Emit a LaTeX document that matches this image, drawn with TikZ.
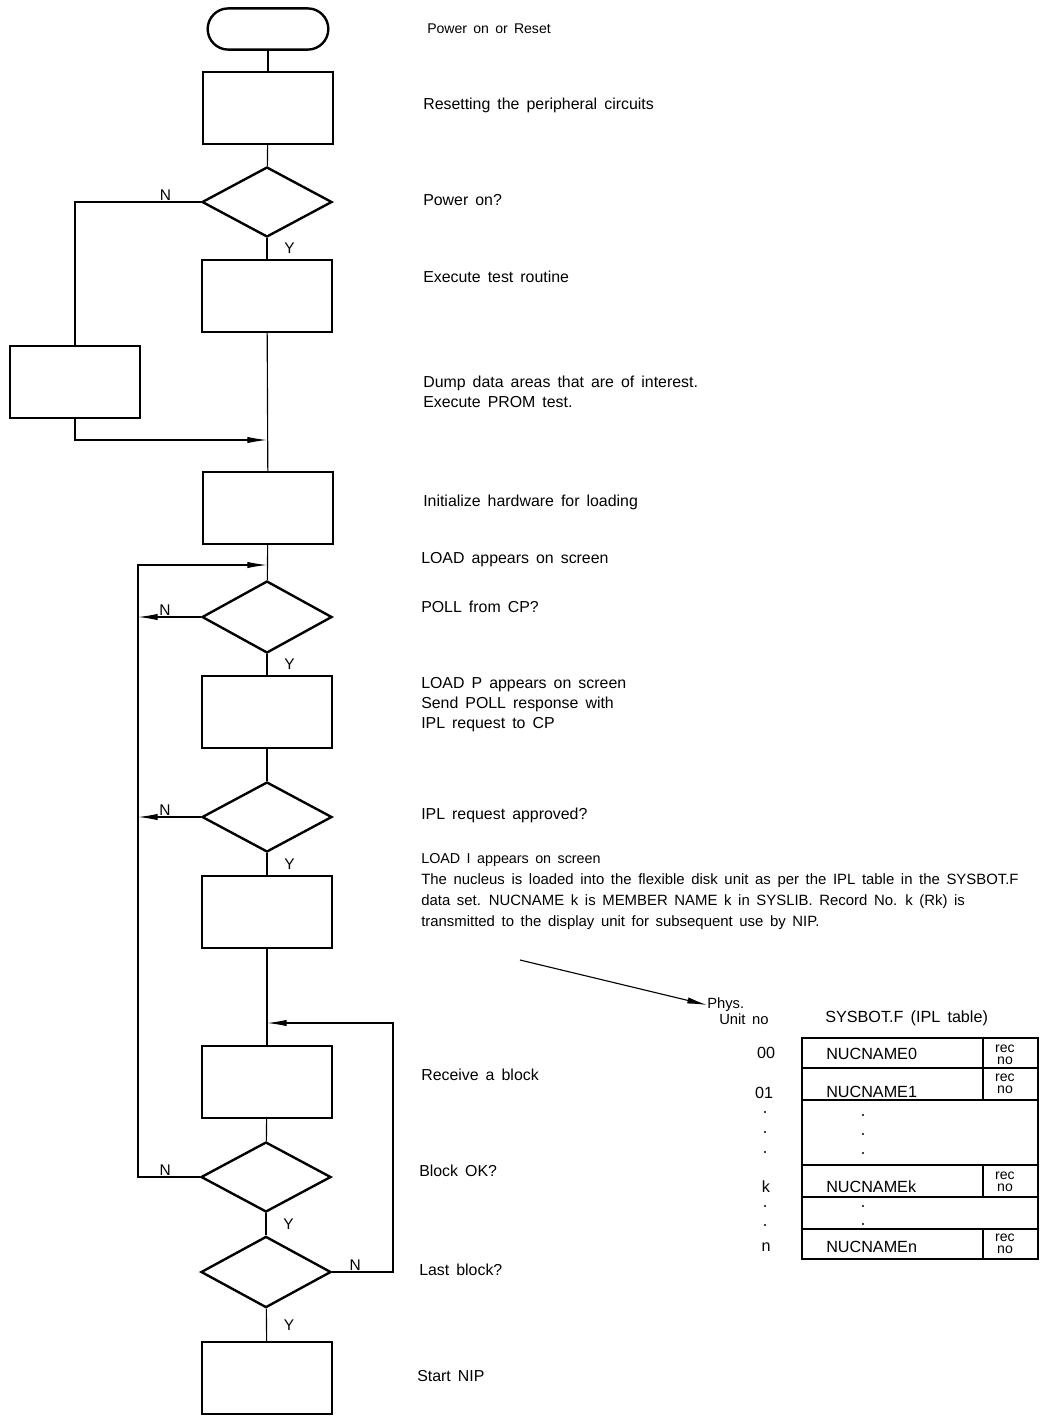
\documentclass[tikz,border=0pt]{standalone}
\usepackage{fontspec}
\setmainfont{Liberation Sans}[WordSpace=1.6]
\usetikzlibrary{arrows.meta, positioning, shapes.geometric, shapes.misc}

\begin{document}
\begin{tikzpicture}[
  x=0.025cm, y=-0.025cm,
  box/.style={draw, line width=1.7pt, minimum width=3.25cm, minimum height=1.8cm},
  decision/.style={draw, diamond, line width=1.7pt, minimum width=3.25cm,
              minimum height=1.75cm, inner sep=0pt},
  term/.style={draw, rounded rectangle, line width=1.7pt, minimum width=3.25cm,
              minimum height=1.03cm},
  line/.style={line width=0.8pt},
  arr/.style={line, -{Latex[length=14pt, width=4.5pt]}},
  lab/.style={font=\fontsize{11}{13}\selectfont, inner sep=1pt},
  ylab/.style={lab, anchor=west, xshift=11pt},
  txt/.style={anchor=west, align=left, inner sep=0pt, font=\fontsize{11.3}{14}\selectfont},
  small/.style={anchor=west, align=left, inner sep=0pt, font=\fontsize{10.6}{15}\selectfont},
  cell/.style={anchor=west, inner sep=0pt, font=\fontsize{11.5}{12}\selectfont},
  recno/.style={align=center, inner sep=0pt, font=\fontsize{10}{8.5}\selectfont},
  dot/.style={circle, fill, inner sep=0pt, minimum size=1.6pt}
]
  \useasboundingbox (0,0) rectangle (1041,1416);

  % flow chart
  \node[term]     (start) at (268,29)   {};
  \node[box]      (reset) at (268,108)  {};
  \node[decision] (pwr)   at (267,202)  {};
  \node[box]      (test)  at (267,296)  {};
  \node[box]      (dump)  at (75,382)   {};
  \node[box]      (init)  at (268,508)  {};
  \node[decision, minimum height=1.8cm] (poll) at (267,617) {};
  \node[box]      (resp)  at (267,712)  {};
  \node[decision] (ipl)   at (267,817)  {};
  \node[box]      (load)  at (267,912)  {};
  \node[box]      (recv)  at (267,1082) {};
  \node[decision] (blk)   at (266,1177) {};
  \node[decision, minimum height=1.78cm] (last) at (266,1272) {};
  \node[box]      (nip)   at (267,1378) {};

  \coordinate (j1) at (267,440);
  \coordinate (j2) at (267,565);
  \coordinate (j3) at (267,1023);
  \coordinate (lx) at (138,565);
  \coordinate (rx) at (393,1023);

  \draw[line] (start) -- (reset);
  \draw[line] (reset) -- (pwr);
  \draw[line] (pwr) -- node[ylab] {Y} (test);
  \draw[line] (pwr.west) -| node[lab, pos=0.14, above] {N} (dump.north);
  \draw[arr]  (dump.south) |- (j1);
  \draw[line] (test) -- (init);
  \draw[line] (init) -- (poll);
  \draw[arr]  (poll.west) -- node[lab, pos=0.57, above] {N} (poll.west -| lx);
  \draw[line] (poll) -- node[ylab] {Y} (resp);
  \draw[line] (resp) -- (ipl);
  \draw[arr]  (ipl.west) -- node[lab, pos=0.57, above] {N} (ipl.west -| lx);
  \draw[line] (ipl) -- node[ylab] {Y} (load);
  \draw[line] (load) -- (recv);
  \draw[line] (recv) -- (blk);
  \draw[arr]  (blk.west) -| node[lab, pos=0.28, above] {N} (lx) -- (j2);
  \draw[line] (blk) -- node[ylab] {Y} (last);
  \draw[arr]  (last.east) -| node[lab, pos=0.19, above] {N} (rx) -- (j3);
  \draw[line] (last) -- node[ylab] {Y} (nip);

  % descriptions
  \node[small, font=\fontsize{10}{12}\selectfont] (t0) at (427,29) {Power on or Reset};
  \node[txt] (t1)  at (423,105)  {Resetting the peripheral circuits};
  \node[txt] (t2)  at (423,200)  {Power on?};
  \node[txt] (t3)  at (423,277)  {Execute test routine};
  \node[txt] (t4)  at (423,392)  {Dump data areas that are of interest.\\Execute PROM test.};
  \node[txt] (t5)  at (423,502)  {Initialize hardware for loading};
  \node[txt] (t6)  at (421,560)  {LOAD appears on screen};
  \node[txt] (t7)  at (421,607)  {POLL from CP?};
  \node[txt, font=\fontsize{11.3}{14.2}\selectfont] (t8) at (421,705)
    {LOAD P appears on screen\\Send POLL response with\\IPL request to CP};
  \node[txt] (t9)  at (421,815)  {IPL request approved?};
  \node[small, font=\fontsize{10.2}{12}\selectfont] (t10) at (421,860) {LOAD I appears on screen};
  \node[small] (t11) at (421,902)
    {The nucleus is loaded into the flexible disk unit as per the IPL table in the SYSBOT.F\\
     data set. NUCNAME k is MEMBER NAME k in SYSLIB. Record No. k (Rk) is\\
     transmitted to the display unit for subsequent use by NIP.};
  \node[txt] (t12) at (421,1075) {Receive a block};
  \node[txt] (t13) at (419,1171) {Block OK?};
  \node[txt] (t14) at (419,1270) {Last block?};
  \node[txt] (t15) at (417,1376) {Start NIP};

  % IPL table
  \coordinate (src) at (520,960);
  \node[cell, font=\fontsize{10.5}{12}\selectfont] (phys) at (707,1005) {Phys.};
  \node[cell, font=\fontsize{10.5}{12}\selectfont] (unit) at (719,1019) {Unit no};
  \draw[arr] (src) -- (phys.west);
  \node[cell] (title) at (825,1018) {SYSBOT.F (IPL table)};

  \draw[line width=1.2pt] (802,1038) rectangle (1038,1259);
  \foreach \y in {1068,1100,1165,1197,1229}
    \draw[line width=1.2pt] (802,\y) -- (1038,\y);
  \foreach \a/\b in {1038/1068,1068/1100,1165/1197,1229/1259}
    \draw[line] (983,\a) -- (983,\b);

  \node[cell] (n0) at (826,1054) {NUCNAME0};
  \node[cell] (n1) at (826,1092) {NUCNAME1};
  \node[cell] (nk) at (826,1187) {NUCNAMEk};
  \node[cell] (nn) at (826,1247) {NUCNAMEn};
  \foreach \y/\nm in {1055/r0,1084/r1,1182/rk,1244/rn}
    \node[recno] (\nm) at (1005,\y) {rec\\no};
  \foreach \y in {1115,1134,1153,1206,1224}
    \node[dot] at (863,\y) {};

  \node[cell, anchor=center] (u0) at (766,1053) {00};
  \node[cell, anchor=center] (u1) at (764,1093) {01};
  \node[cell, anchor=center] (uk) at (766,1187) {k};
  \node[cell, anchor=center] (un) at (766,1247) {n};
  \foreach \y in {1112,1132,1152,1206,1225}
    \node[dot] at (765,\y) {};
\end{tikzpicture}
\end{document}
